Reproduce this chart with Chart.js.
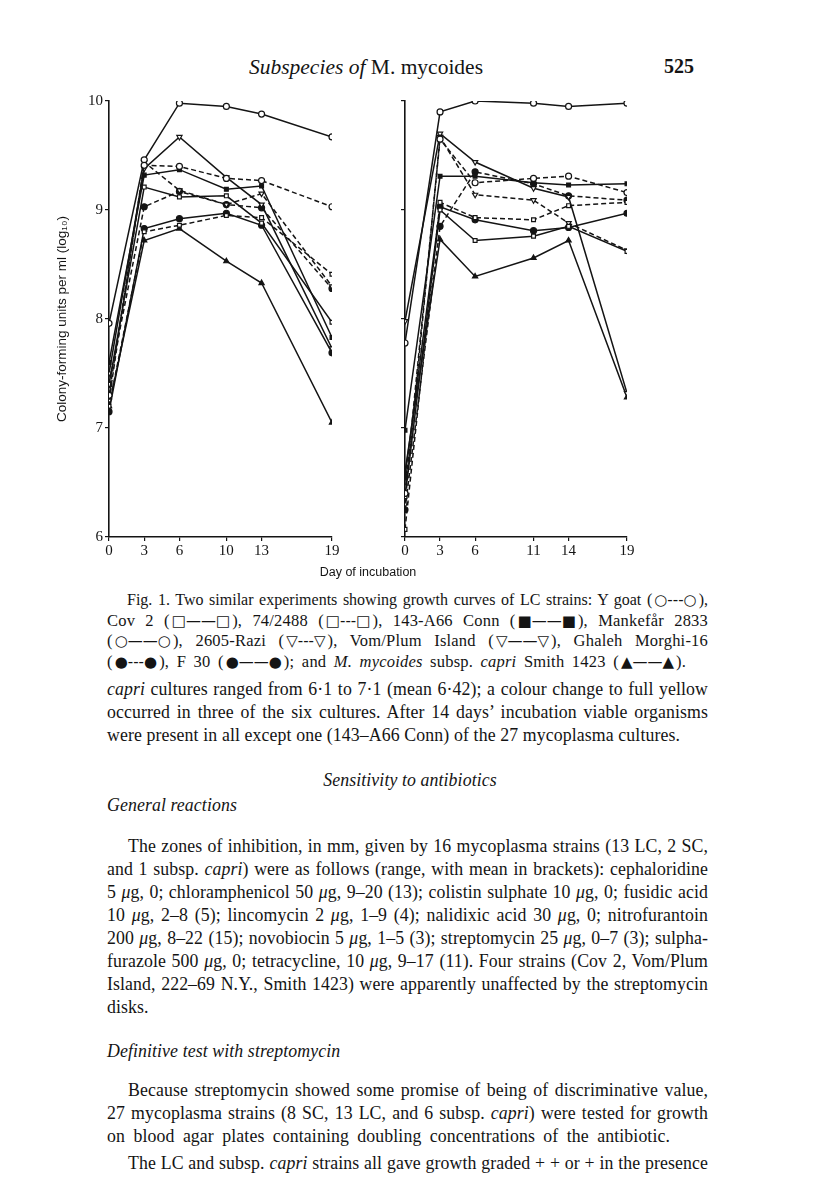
<!DOCTYPE html>
<html>
<head>
<meta charset="utf-8">
<script src="https://cdn.jsdelivr.net/npm/chart.js@4.4.0/dist/chart.umd.min.js"></script>
<style>
  body { margin: 0; background: #fff; width: 816px; height: 1203px; position: relative; overflow: hidden;
         font-family: "Liberation Serif", "DejaVu Serif", serif; color: #141414; }
  .ln { position: absolute; left: 107px; width: 601px; white-space: nowrap; text-align: justify;
        text-align-last: justify; font-size: 17.8px; letter-spacing: 0.1px; line-height: 22px; }
  .cap { font-size: 16.5px; letter-spacing: 0.2px; line-height: 20px; }
  .free { text-align: left; text-align-last: left; }
  .ind { left: 128px; width: 580px; }
  .capind { left: 127px; width: 581px; letter-spacing: 0; font-size: 16px; }
  .sym { display: inline-block; font-family: "DejaVu Sans", sans-serif; font-size: 15px; letter-spacing: 0; padding: 0 2px; }
  #chartL { position: absolute; left: 45px; top: 90px; }
  #chartR { position: absolute; left: 375px; top: 90px; }
  #xtitle { position: absolute; left: 268px; width: 200px; top: 565px; text-align: center;
            font-family: "Liberation Sans", Arial, sans-serif; font-size: 12.5px; }
</style>
</head>
<body>

<div style="position:absolute;left:0;width:732px;top:55px;text-align:center;font-size:21.5px;"><i>Subspecies of</i> M. mycoides</div>
<div style="position:absolute;left:664px;top:55px;font-size:20px;font-weight:bold;">525</div>

<canvas id="chartL" width="300" height="480"></canvas>
<canvas id="chartR" width="270" height="480"></canvas>
<div id="xtitle">Day of incubation</div>

<div class="ln cap capind" style="top:590px">Fig. 1. Two similar experiments showing growth curves of LC strains: Y goat (<span class="sym">○---○</span>),</div>
<div class="ln cap" style="top:611px">Cov 2 (<span class="sym">□——□</span>), 74/2488 (<span class="sym">□---□</span>), 143-A66 Conn (<span class="sym">■——■</span>), Mankefår 2833</div>
<div class="ln cap" style="top:631px">(<span class="sym">○——○</span>), 2605-Razi (<span class="sym">▽---▽</span>), Vom/Plum Island (<span class="sym">▽——▽</span>), Ghaleh Morghi-16</div>
<div class="ln cap" style="top:652px;width:579px">(<span class="sym">●---●</span>), F 30 (<span class="sym">●——●</span>); and <i>M. mycoides</i> subsp. <i>capri</i> Smith 1423 (<span class="sym">▲——▲</span>).</div>

<div class="ln" style="top:678px"><i>capri</i> cultures ranged from 6·1 to 7·1 (mean 6·42); a colour change to full yellow</div>
<div class="ln" style="top:701px">occurred in three of the six cultures. After 14 days’ incubation viable organisms</div>
<div class="ln" style="top:724px;width:573px">were present in all except one (143–A66 Conn) of the 27 mycoplasma cultures.</div>

<div class="ln free" style="top:769px;left:0;width:820px;text-align:center;text-align-last:center;"><i>Sensitivity to antibiotics</i></div>
<div class="ln free" style="top:794px"><i>General reactions</i></div>

<div class="ln ind" style="top:835px">The zones of inhibition, in mm, given by 16 mycoplasma strains (13 LC, 2 SC,</div>
<div class="ln" style="top:858px">and 1 subsp. <i>capri</i>) were as follows (range, with mean in brackets): cephaloridine</div>
<div class="ln" style="top:881px">5 <i>μ</i>g, 0; chloramphenicol 50 <i>μ</i>g, 9–20 (13); colistin sulphate 10 <i>μ</i>g, 0; fusidic acid</div>
<div class="ln" style="top:904px">10 <i>μ</i>g, 2–8 (5); lincomycin 2 <i>μ</i>g, 1–9 (4); nalidixic acid 30 <i>μ</i>g, 0; nitrofurantoin</div>
<div class="ln" style="top:927px">200 <i>μ</i>g, 8–22 (15); novobiocin 5 <i>μ</i>g, 1–5 (3); streptomycin 25 <i>μ</i>g, 0–7 (3); sulpha-</div>
<div class="ln" style="top:950px">furazole 500 <i>μ</i>g, 0; tetracycline, 10 <i>μ</i>g, 9–17 (11). Four strains (Cov 2, Vom/Plum</div>
<div class="ln" style="top:973px">Island, 222–69 N.Y., Smith 1423) were apparently unaffected by the streptomycin</div>
<div class="ln free" style="top:996px">disks.</div>

<div class="ln free" style="top:1040px"><i>Definitive test with streptomycin</i></div>
<div class="ln ind" style="top:1079px">Because streptomycin showed some promise of being of discriminative value,</div>
<div class="ln" style="top:1102px">27 mycoplasma strains (8 SC, 13 LC, and 6 subsp. <i>capri</i>) were tested for growth</div>
<div class="ln" style="top:1125px;width:563px">on blood agar plates containing doubling concentrations of the antibiotic.</div>
<div class="ln ind" style="top:1152px">The LC and subsp. <i>capri</i> strains all gave growth graded + + or + in the presence</div>

<script>
// days sampled in each experiment
const daysLeft = [0, 3, 6, 10, 13, 19];
const daysRight = [0, 3, 6, 11, 14, 19];
const yTicks = [6, 7, 8, 9, 10];

// log10 colony-forming units per ml, experiment 1 (left)
const yGoatL   = [7.30, 9.41, 9.40, 9.29, 9.27, 9.03];
const cov2L    = [7.40, 9.21, 9.12, 9.13, 8.88, 7.97];
const s74L     = [7.20, 8.80, 8.86, 8.95, 8.93, 8.41];
const connL    = [7.60, 9.32, 9.37, 9.19, 9.22, 7.83];
const mankL    = [7.96, 9.46, 9.98, 9.95, 9.88, 9.67];
const raziL    = [7.25, 9.44, 9.18, 9.05, 9.15, 8.30];
const vomL     = [7.50, 9.38, 9.67, 9.30, 9.05, 7.73];
const ghalehL  = [7.40, 9.03, 9.17, 9.05, 9.02, 8.28];
const f30L     = [7.15, 8.83, 8.92, 8.97, 8.86, 7.69];
const smithL   = [7.20, 8.72, 8.83, 8.53, 8.33, 7.05];

// experiment 2 (right)
const yGoatR   = [6.40, 9.65, 9.25, 9.29, 9.31, 9.16];
const cov2R    = [6.37, 9.00, 8.72, 8.76, 8.85, 8.62];
const s74R     = [6.07, 9.07, 8.93, 8.91, 9.04, 9.07];
const connR    = [6.98, 9.31, 9.31, 9.25, 9.23, 9.24];
const mankR    = [7.78, 9.90, 10.0, 9.98, 9.95, 9.98];
const raziR    = [6.30, 9.67, 9.14, 9.09, 8.88, 8.63];
const vomR     = [7.98, 9.70, 9.44, 9.20, 9.12, 7.32];
const ghalehR  = [6.25, 8.85, 9.35, 9.24, 9.13, 9.09];
const f30R     = [6.55, 9.03, 8.91, 8.81, 8.84, 8.97];
const smithR   = [6.60, 8.73, 8.39, 8.56, 8.72, 7.28];

const INK = "#141414";
const DASH = [5, 3];

// name, style for each strain
const strains = [
  { name: "Y goat",           L: yGoatL,  R: yGoatR,  shape: "circle",   open: true,  dash: true },
  { name: "Cov 2",            L: cov2L,   R: cov2R,   shape: "rect",     open: true,  dash: false },
  { name: "74/2488",          L: s74L,    R: s74R,    shape: "rect",     open: true,  dash: true },
  { name: "143-A66 Conn",     L: connL,   R: connR,   shape: "rect",     open: false, dash: false },
  { name: "Mankefår 2833",    L: mankL,   R: mankR,   shape: "circle",   open: true,  dash: false },
  { name: "2605-Razi",        L: raziL,   R: raziR,   shape: "triangle", open: true,  dash: true,  down: true },
  { name: "Vom/Plum Island",  L: vomL,    R: vomR,    shape: "triangle", open: true,  dash: false, down: true },
  { name: "Ghaleh Morghi-16", L: ghalehL, R: ghalehR, shape: "circle",   open: false, dash: true },
  { name: "F 30",             L: f30L,    R: f30R,    shape: "circle",   open: false, dash: false },
  { name: "Smith 1423",       L: smithL,  R: smithR,  shape: "triangle", open: false, dash: false }
];

function makeDatasets(days, side) {
  return strains.map(s => ({
    label: s.name,
    data: days.map((d, i) => ({ x: d, y: s[side][i] })),
    borderColor: INK,
    borderWidth: 1.5,
    borderDash: s.dash ? DASH : [],
    pointStyle: s.shape,
    pointRotation: s.down ? 180 : 0,
    pointRadius: s.shape === "rect" ? 2.7 : 3,
    pointBorderWidth: 1.2,
    pointBorderColor: INK,
    pointBackgroundColor: s.open ? "#fff" : INK,
    fill: false,
    tension: 0
  }));
}

function makeChart(id, days, side, yWidth, showLabels) {
  const ctx = document.getElementById(id).getContext("2d");
  return new Chart(ctx, {
    type: "line",
    data: { datasets: makeDatasets(days, side) },
    options: {
      responsive: false,
      animation: false,
      layout: { padding: { top: 11, right: showLabels ? 13 : 18, bottom: 0, left: 0 } },
      plugins: { legend: { display: false }, tooltip: { enabled: false } },
      scales: {
        x: {
          type: "linear", min: 0, max: 19,
          afterBuildTicks: sc => { sc.ticks = days.map(v => ({ value: v })); },
          afterFit: sc => { sc.height = 33; },
          border: { color: INK, width: 1.6 },
          grid: { drawOnChartArea: false, drawTicks: true, tickLength: 4, color: INK, lineWidth: 1.2 },
          ticks: { color: INK, padding: 1, maxRotation: 0, autoSkip: false,
                   font: { family: "Liberation Serif", size: 15 } }
        },
        y: {
          type: "linear", min: 6, max: 10,
          afterBuildTicks: sc => { sc.ticks = yTicks.map(v => ({ value: v })); },
          afterFit: sc => { sc.width = yWidth; },
          border: { color: INK, width: 1.6 },
          grid: { drawOnChartArea: false, drawTicks: true, tickLength: 4, color: INK, lineWidth: 1.2 },
          ticks: { display: showLabels, color: INK, padding: 2,
                   font: { family: "Liberation Serif", size: 15 } },
          title: {
            display: showLabels,
            text: "Colony-forming units per ml (log₁₀)",
            color: INK,
            padding: { top: 9, bottom: 0 },
            font: { family: "Liberation Sans", size: 13.5 }
          }
        }
      }
    }
  });
}

makeChart("chartL", daysLeft, "L", 64, true);
makeChart("chartR", daysRight, "R", 30, false);
</script>
</body>
</html>
